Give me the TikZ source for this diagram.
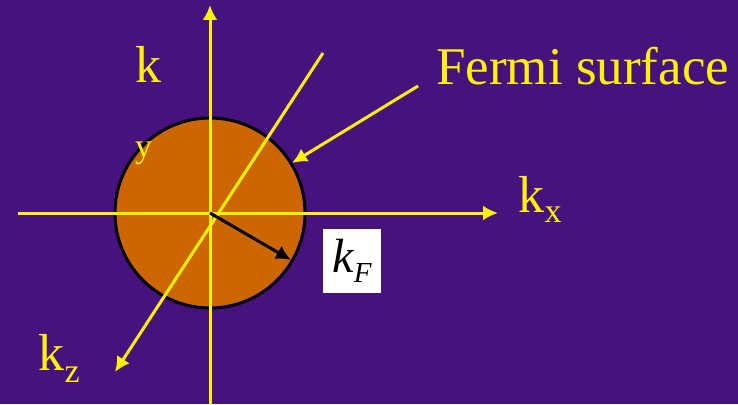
\documentclass[tikz,border=0pt]{standalone}
\usepackage{fontspec}
\setmainfont{Liberation Serif}
\usetikzlibrary{arrows.meta}
\tikzset{>={Latex[length=15pt,width=15pt]}}
\definecolor{bgcol}{RGB}{70,18,126}
\colorlet{axiscol}{yellow}
\definecolor{fermicol}{RGB}{204,102,0}
\tikzset{
  axis/.style={->,line width=3pt,axiscol},
  axislabel/.style={axiscol,inner sep=0,anchor=base west,
                    font=\fontsize{52}{52}\selectfont},
  axissub/.style={axiscol,inner sep=0,anchor=base west,
                  font=\fontsize{34}{34}\selectfont}}

\begin{document}
\begin{tikzpicture}[x=1pt,y=-1pt]
  \fill[bgcol] (0,0) rectangle (738,404);
  \useasboundingbox (0,0) rectangle (738,404);
  \coordinate (O) at (210,213);

  % FERMI SPHERE
  \node[circle,draw=black,line width=3pt,fill=fermicol,
        minimum size=190pt,inner sep=0] (FS) at (O) {};

  % AXES
  \coordinate (ybot) at (210,404);
  \coordinate (ytop) at (210,5);
  \coordinate (xleft) at (18,213);
  \coordinate (xright) at (498,213);
  \coordinate (zback) at (323,53);
  \coordinate (zfront) at (115,372);
  \draw[axis] (ybot) -- (ytop);
  \draw[axis] (xleft) -- (xright);
  \draw[axis] (zback) -- (zfront);

  % LABELS
  \node[axislabel] (ky) at (135,82) {k};
  \node[axissub] (kysub) at (135,157) {y};
  \node[axislabel] (kx) at (518,212) {k};
  \node[axissub,yshift=-10pt] (kxsub) at (kx.base east) {x};
  \node[axislabel] (kz) at (38,370) {k};
  \node[axissub,yshift=-12pt] (kzsub) at (kz.base east) {z};
  \node[axislabel,font=\fontsize{53}{53}\selectfont] (fermi) at (436,84) {Fermi surface};

  % FERMI WAVEVECTOR
  \coordinate (fermitail) at (418,86);
  \coordinate (fermitip) at (292,163);
  \draw[axis] (fermitail) -- (fermitip);
  \coordinate (kFtip) at (291,260);
  \draw[->,line width=3pt,black] (O) -- (kFtip);
  \node[fill=white,minimum width=58pt,minimum height=64pt,inner sep=0] (kF) at (352,261)
    {{\fontsize{48}{48}\selectfont\itshape k}\raisebox{-10pt}{\fontsize{29}{29}\selectfont\itshape F}};
\end{tikzpicture}
\end{document}
